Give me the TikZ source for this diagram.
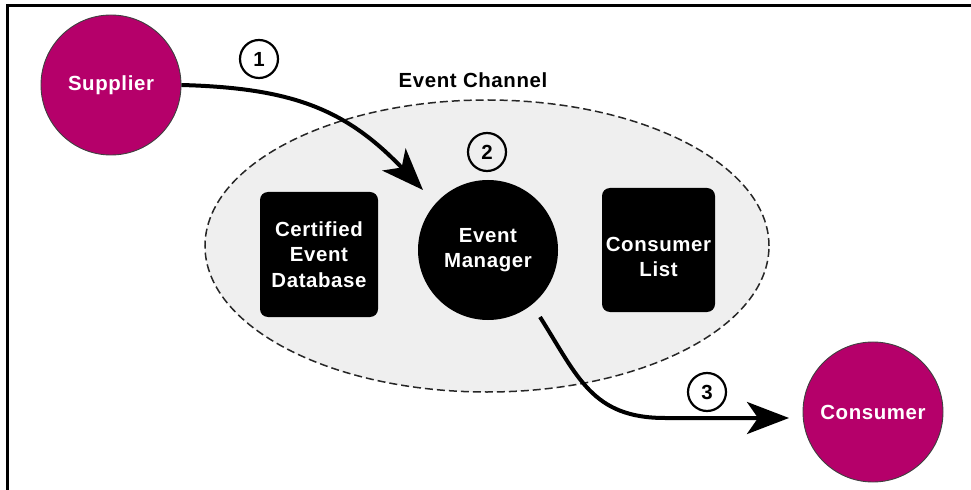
\documentclass[tikz,border=0pt]{standalone}
\usepackage{fontspec}
\setmainfont{Liberation Sans}[LetterSpace=3]
\usetikzlibrary{arrows.meta,shapes.geometric}
\definecolor{plum}{RGB}{181,0,106}
\definecolor{channelgray}{RGB}{239,239,239}

\begin{document}
\begin{tikzpicture}[x=1bp,y=-1bp,
  labelfont/.style={font=\fontsize{20.5}{25.5}\selectfont\bfseries},
  party/.style={circle, fill=plum, draw=black!75, line width=0.9bp,
    minimum size=140bp, inner sep=0pt, text=white, labelfont},
  manager/.style={circle, fill=black, minimum size=140bp, inner sep=0pt,
    text=white, align=center, labelfont},
  store/.style={rounded corners=8bp, fill=black, text=white, align=center,
    inner sep=0pt, labelfont},
  stepnum/.style={circle, draw=black, line width=2.2bp, minimum size=38bp,
    inner sep=0pt, labelfont},
  flow/.style={line width=4bp, -{Stealth[length=42bp,width=32bp,inset=11bp]}},
]
\useasboundingbox (0,0) rectangle (971,490);

% frame edges (top and left)
\draw[line width=3bp] (7,490) -- (7,6) -- (971,6);

% event channel
\node[ellipse, fill=channelgray, draw=black!85, line width=1.5bp,
  dash pattern=on 8bp off 4bp, minimum width=564bp, minimum height=292bp]
  (chan) at (487,246) {};
\node[labelfont] (chanlabel) at (473,80) {Event Channel};

% parties
\node[party] (sup) at (111,85) {Supplier};
\node[party] (con) at (873,412) {Consumer};

% channel contents
\node[manager] (mgr) at (488,250) {Event\\Manager};
\node[store, minimum width=118bp, minimum height=125bp] (db) at (319,254.5)
  {Certified\\Event\\Database};
\node[store, minimum width=113bp, minimum height=124bp] (list) at (658.5,250) {};
\node[text=white, align=center, labelfont] (listtext) at ([yshift=-7bp]list.center)
  {Consumer\\List};

% step numbers
\node[stepnum] (s1) at (259,59) {1};
\node[stepnum] (s2) at (487,152) {2};
\node[stepnum] (s3) at (707,392) {3};

% message flow
\coordinate (in1) at (423,190);
\coordinate (out2) at (540,317);
\coordinate (in3) at (789,418);
\draw[flow] (sup.east) .. controls (290,88) and (345,108) .. (in1);
\draw[flow] (out2) .. controls (578,377) and (592,418) .. (665,418) -- (in3);
\end{tikzpicture}
\end{document}
